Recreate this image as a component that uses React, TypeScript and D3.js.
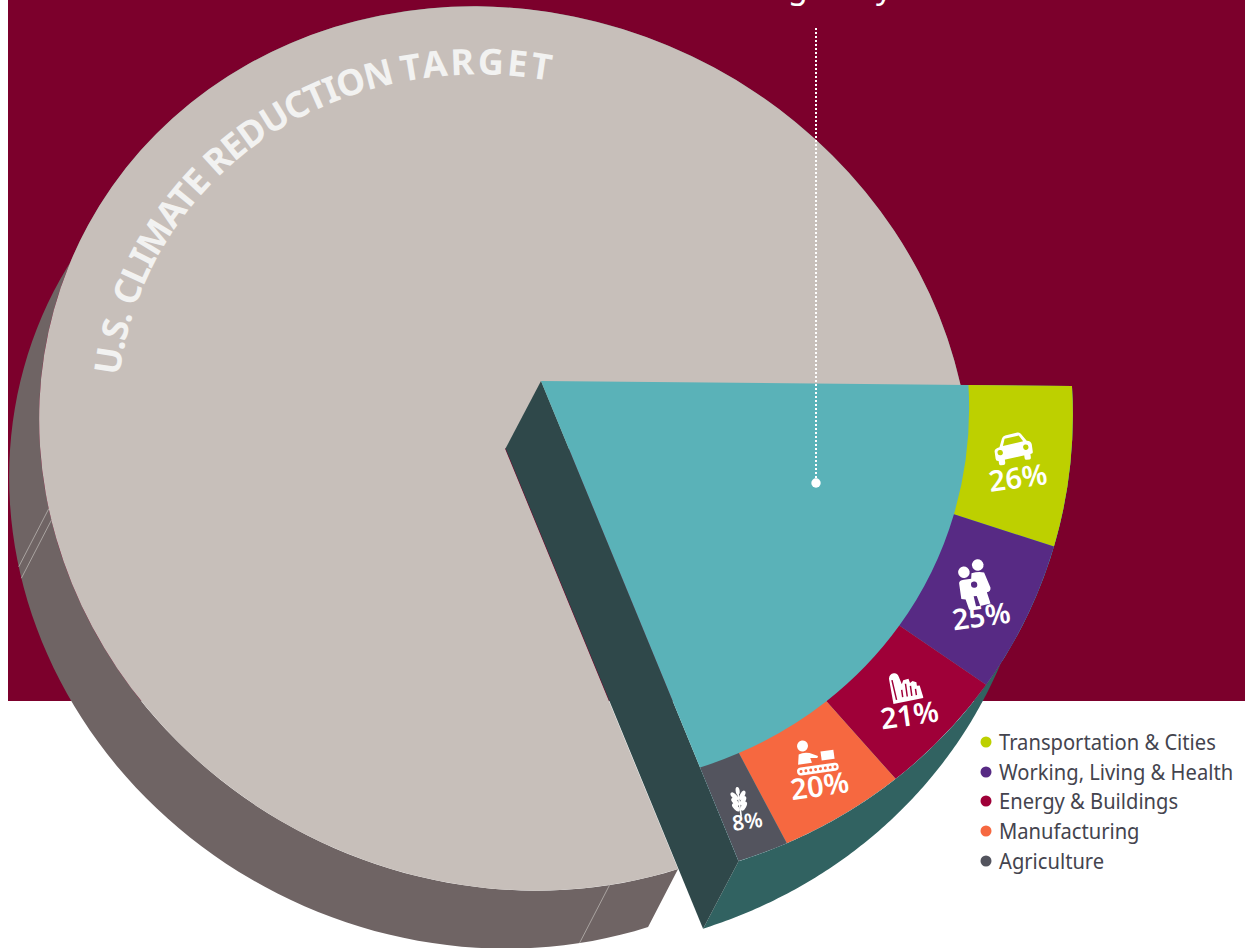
import React from "react";
import * as d3 from "d3";

const reductionLabels = ["Wedge", "Rest of target"];
const reductionShares = [19.85, 80.15];
const sectorNames = ["Transportation & Cities", "Working, Living & Health", "Energy & Buildings", "Manufacturing", "Agriculture"];
const sectorShares = [26, 25, 21, 20, 8];
const sectorColors = ["#bdd000", "#572a84", "#9f0038", "#f66840", "#53545e"];
const sectorTexts = ["26%", "25%", "21%", "20%", "8%"];
const titleLead = "U.S. CLIMATE REDUCTION ";
const titleTail = "TARGET";
const headlineFragments = ["g", "y"];
const seamAngles = [144.2, 142.7, 52.9];
const legendYs = [742, 772, 801, 831, 861];

const W = 1245, H = 948;
const FONT = "'Noto Sans', sans-serif";
const R = 100;
const TILT = 26, AX = 540, BX = 496;
const START = 62.6;
const rad = (d: number) => (d * Math.PI) / 180;
const pieC = { x: 505, y: 448.5 }, wedgeC = { x: 541, y: 381 };
const pieScale = 0.876, innerScale = 0.805;
const pieDrop = { x: -30, y: 58 }, wedgeDrop = { x: -35.5, y: 67.5 };
const headlineX = [788, 876];
const labelNudge = [[1, 29], [4, 31], [6, 25], [7, 24], [7, 22]];
const iconNudge = [[-5, -10], [-2, -8], [1, -13], [3, -9], [-2, -4]];
const iconScales = [0.9, 1.05, 0.92, 1, 1];

const project = (c: { x: number; y: number }, s: number, [ux, uy]: number[]) => {
  const x0 = (ux / R) * AX * s, y0 = (uy / R) * BX * s, k = rad(TILT);
  return [c.x + x0 * Math.cos(k) - y0 * Math.sin(k), c.y + x0 * Math.sin(k) + y0 * Math.cos(k)];
};
const onRim = (c: { x: number; y: number }, s: number, alpha: number) =>
  project(c, s, [R * Math.sin(alpha), -R * Math.cos(alpha)]);
const planeTransform = (c: { x: number; y: number }, s: number) =>
  `translate(${c.x},${c.y}) rotate(${TILT}) scale(${(AX * s) / R},${(BX * s) / R})`;

const shares = d3.pie<number>().sort(null).startAngle(rad(START)).endAngle(rad(START + 360))(reductionShares);
const wedge = shares[0], rest = shares[1];
const sectors = d3.pie<number>().sort(null).startAngle(wedge.startAngle).endAngle(wedge.endAngle)(sectorShares);
const fullArc = d3.arc<any>().innerRadius(0).outerRadius(R);
const ringArc = d3.arc<any>().innerRadius(R * innerScale).outerRadius(R);
const lineGen = d3.line();

const rimWall = (c: any, s: number, a0: number, a1: number, drop: any) => {
  const ang = d3.range(0, 161).map((i) => a0 + ((a1 - a0) * i) / 160);
  const top = ang.map((a) => onRim(c, s, a));
  const low = top.map(([x, y]) => [x + drop.x, y + drop.y]).reverse();
  return lineGen([...top, ...low] as any) + "Z";
};
const titlePath = (() => {
  const ang = d3.range(0, 101).map((i) => rad(252.5 + (105 * i) / 100));
  return lineGen(ang.map((a) => onRim({ x: 505, y: 443 }, 0.73, a)) as any) as string;
})();

function Icon({ i, bg }: { i: number; bg: string }) {
  if (i === 0)
    return (
      <g fill="#fff">
        <path d="M-15,-4L-11,-13Q-10,-15.5 -7,-16L7,-17.5Q10,-17.5 11,-15L16,-7Q21,-6 21,-2L21,6Q21,8 19,8L-18,11Q-21,11 -21,8L-21,0Q-21,-3 -15,-4Z" />
        <path d="M-11,-5L-8,-12.5L8,-14L12,-7Z" fill={bg} />
        <circle cx="-15" cy="2" r="3" fill={bg} />
        <circle cx="14" cy="0" r="3" fill={bg} />
        <rect x="-18" y="8" width="7" height="8" rx="2" />
        <rect x="11" y="6" width="7" height="8" rx="2" />
      </g>
    );
  if (i === 1)
    return (
      <g fill="#fff">
        <circle cx="4" cy="-21" r="5.5" />
        <circle cx="-10" cy="-16" r="5.5" />
        <path d="M-3,-14Q4,-15 9,-13L13,2Q13,6 9,6L11,17L1,18L-1,8L-4,8L-3,19L-10,20L-12,10L-16,9L-16,-6Q-16,-9 -11,-9L-4,-9Z" />
        <circle cx="-2" cy="-3" r="3" fill={bg} />
        <circle cx="-2" cy="4" r="2.5" fill="#fff" />
      </g>
    );
  if (i === 2)
    return (
      <g fill="#fff">
        <path d="M-16,16L-17,-12Q-16,-17 -11,-17Q-7,-17 -6,-12L-4,-4L-2,-8L4,-9L5,-4L8,-6L12,-4L12,0L15,0L17,12L17,14Z" />
        <path d="M-14,-10L-12,12M-5,2L-5,10M0,-4L0,10M5,-1L5,10M10,3L10,10" stroke={bg} strokeWidth="1.6" fill="none" />
      </g>
    );
  if (i === 3)
    return (
      <g fill="#fff">
        <circle cx="-12" cy="-19" r="5.5" />
        <path d="M-19,-1L-17,-11Q-12,-13 -6,-11L2,-7L1,-5L-6,-6L-5,-1Z" />
        <rect x="5" y="-11" width="13" height="9" />
        <rect x="-21" y="2" width="42" height="8" rx="4" />
        {d3.range(8).map((k) => (
          <circle key={k} cx={-17 + k * 4.9} cy="6" r="1.5" fill={bg} />
        ))}
      </g>
    );
  return (
    <g fill="#fff">
      <path d="M0,-11L0,14" stroke="#fff" strokeWidth="1.6" />
      {[-7, -1.5, 4].map((y) => (
        <g key={y}>
          <ellipse cx="-4" cy={y} rx="2.4" ry="5" transform={`rotate(-35 -4 ${y})`} />
          <ellipse cx="4" cy={y} rx="2.4" ry="5" transform={`rotate(35 4 ${y})`} />
        </g>
      ))}
      <ellipse cx="0" cy="-12" rx="2" ry="4" />
    </g>
  );
}

export default function App() {
  return (
    <svg
      width={W}
      height={H}
      viewBox={`0 0 ${W} ${H}`}
      style={{ position: "absolute", left: 0, top: 0, background: "#fff" }}
      fontFamily={FONT}
    >
      <rect x={8} y={0} width={W - 8} height={701} fill="#7c002c" />
      {headlineFragments.map((t, i) => (
        <text key={t} x={headlineX[i]} y={-2} fill="#fff" fontSize={32}>
          {t}
        </text>
      ))}
      <path d={rimWall(pieC, pieScale, rest.startAngle, rest.endAngle, pieDrop)} fill="#6f6464" />
      {seamAngles.map((a) => {
        const [x, y] = onRim(pieC, pieScale, rad(a + 90));
        return <line key={a} x1={x} y1={y} x2={x + pieDrop.x} y2={y + pieDrop.y} stroke="#a9a3a0" strokeWidth={1} />;
      })}
      <path d={fullArc(rest) as string} transform={planeTransform(pieC, pieScale)} fill="#c7bfba" />
      <path id="title-arc" d={titlePath} fill="none" />
      <text fill="#f2f2f1" fontSize={36} fontWeight={700}>
        <textPath href="#title-arc">
          <tspan letterSpacing={-1.1}>{titleLead}</tspan>
          <tspan letterSpacing={2.8}>{titleTail}</tspan>
        </textPath>
      </text>

      <path d={rimWall(wedgeC, 1, wedge.startAngle, wedge.endAngle, wedgeDrop)} fill="#316261" />
      {(() => {
        const e = onRim(wedgeC, 1, wedge.endAngle);
        const pts = [
          [wedgeC.x, wedgeC.y],
          [wedgeC.x + wedgeDrop.x, wedgeC.y + wedgeDrop.y],
          [e[0] + wedgeDrop.x, e[1] + wedgeDrop.y],
          e,
        ];
        return <path d={(lineGen(pts as any) as string) + "Z"} fill="#2f484a" />;
      })()}
      <path d={fullArc(wedge) as string} transform={planeTransform(wedgeC, 1)} fill="#5ab2b8" />
      {sectors.map((s, i) => (
        <path key={sectorNames[i]} d={ringArc(s) as string} transform={planeTransform(wedgeC, 1)} fill={sectorColors[i]} />
      ))}
      <line x1={816} y1={28} x2={816} y2={483} stroke="#fff" strokeWidth={2} strokeDasharray="2 2" />
      <circle cx={816} cy={483} r={4.7} fill="#fff" />

      {sectors.map((s, i) => {
        const [x, y] = project(wedgeC, 1, ringArc.centroid(s));
        return (
          <g key={sectorTexts[i]}>
            <g transform={`translate(${x + iconNudge[i][0]},${y + iconNudge[i][1]}) rotate(-8) scale(${iconScales[i]})`}>
              <Icon i={i} bg={sectorColors[i]} />
            </g>
            <text
              transform={`translate(${x + labelNudge[i][0]},${y + labelNudge[i][1]}) rotate(-8)`}
              textAnchor="middle"
              fill="#fff"
              fontSize={i === 4 ? 21 : 29}
              fontWeight={600}
            >
              {sectorTexts[i]}
            </text>
          </g>
        );
      })}

      {sectorNames.map((n, i) => (
        <g key={n}>
          <circle cx={986} cy={legendYs[i]} r={5.5} fill={sectorColors[i]} />
          <text transform={`translate(999,${legendYs[i] + 8}) scale(0.96,1)`} fontSize={21} fill="#44444e">
            {n}
          </text>
        </g>
      ))}
    </svg>
  );
}
